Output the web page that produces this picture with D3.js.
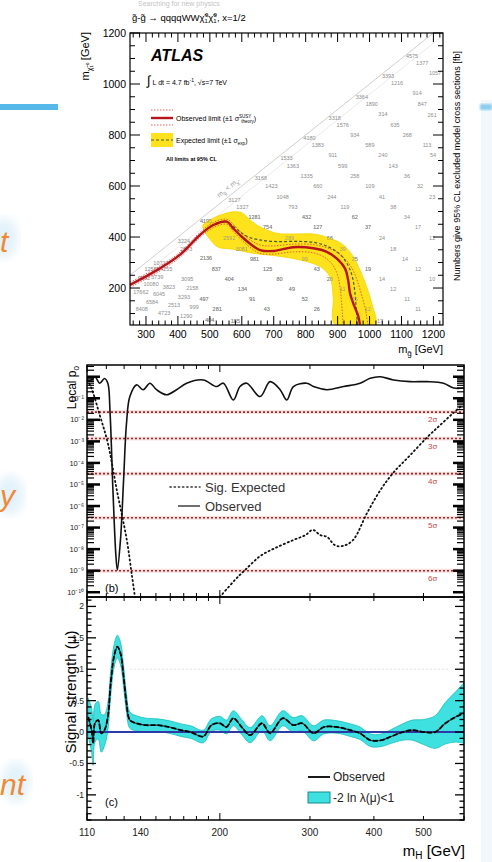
<!DOCTYPE html>
<html><head><meta charset="utf-8">
<script src="https://cdn.jsdelivr.net/npm/d3@7"></script>
<style>body{margin:0;background:#fff;} svg{display:block;font-family:"Liberation Sans",Arial,sans-serif;}</style>
</head><body><svg id="c" width="492" height="862"></svg>
<script>
// ---------------- DATA ----------------
// ATLAS exclusion panel (m_gluino, m_chi in GeV)
const atlasXTicks = [300,400,500,600,700,800,900,1000,1100,1200];
const atlasYTicks = [200,400,600,800,1000,1200];
const diagonal = [[250,250],[1200,1200]];
const obsLimit = [[250,212],[344,277],[406,330],[469,408],[511,447],[553,460],[573,434],[600,401],[631,369],[657,349],[699,345],[761,360],[824,356],[866,342],[897,316],[923,277],[933,231],[939,179],[949,140],[965,88],[970,55]];
const obsLimitUp = [[250,222],[344,287],[406,340],[469,418],[511,457],[553,470],[575,448],[600,415],[631,385],[660,368],[700,365],[761,372],[824,370],[866,358],[900,338],[930,305],[950,265],[965,215],[978,160],[988,110],[995,55]];
const obsLimitDown = [[250,202],[344,267],[406,320],[469,398],[511,437],[553,450],[573,422],[600,388],[631,355],[657,336],[700,333],[761,342],[824,338],[860,320],[885,290],[900,250],[908,200],[912,150],[915,100],[917,55]];
const expLimit = [[250,214],[344,279],[406,333],[469,410],[511,448],[545,462],[565,450],[590,425],[620,400],[660,388],[710,382],[770,383],[830,378],[870,362],[905,335],[930,295],[945,250],[953,195],[957,140],[960,90],[962,55]];
const expBandUp = [[479,447],[521,480],[573,499],[600,495],[626,467],[657,440],[709,415],[761,412],[824,412],[876,395],[918,369],[949,323],[970,271],[991,205],[1007,140],[1017,55]];
const expBandDown = [[479,434],[506,382],[526,360],[573,352],[636,336],[709,326],[782,310],[845,284],[876,244],[886,166],[892,55]];
const gridLabels = [
[1133,1110,"4575"],[1165,1082,"1377"],[1205,1043,"1057"],[1058,1031,"3393"],[1086,1004,"1216"],[1149,965,"914"],
[976,949,"3364"],[1007,922,"1890"],[1165,922,"847"],[1042,882,"314"],[1196,878,"261"],[891,867,"3318"],
[916,839,"1576"],[1080,839,"635"],[954,800,"934"],[1118,800,"268"],[812,788,"4180"],[838,761,"1383"],
[1001,761,"589"],[1180,761,"113"],[885,722,"911"],[1042,722,"240"],[1199,722,"54"],[740,710,"1533"],
[760,678,"1363"],[916,678,"599"],[1074,678,"143"],[660,630,"3168"],[803,639,"1335"],[954,639,"258"],[1117,639,"36"],
[693,600,"1423"],[838,600,"660"],[1001,600,"109"],[1158,600,"32"],[577,545,"3127"],[728,557,"1048"],[882,557,"244"],
[1039,557,"41"],[1196,557,"23"],[602,518,"1327"],[760,518,"793"],[923,518,"119"],[1074,518,"38"],
[640,478,"1281"],[803,478,"432"],[954,478,"62"],[1117,478,"34"],[488,463,"4195"],[681,439,"754"],[838,439,"127"],
[995,439,"37"],[1152,439,"17"],[750,396,"289"],[876,396,"66"],[1039,396,"24"],[1196,396,"12"],[561,396,"2592"],
[419,384,"3224"],[426,353,"2573"],[600,353,"3081"],[916,353,"39"],[1074,353,"18"],[347,298,"10713"],[488,318,"2136"],
[640,314,"981"],[797,314,"99"],[954,314,"25"],[1111,314,"14"],[319,274,"12585"],[363,274,"4255"],[520,274,"837"],
[681,274,"125"],[835,274,"43"],[995,274,"19"],[1152,274,"12"],[294,239,"9592"],[335,243,"3739"],[429,235,"3095"],
[561,235,"404"],[718,235,"80"],[876,235,"28"],[1039,235,"14"],[1196,235,"10"],[316,216,"10080"],[372,204,"3823"],
[445,200,"2158"],[602,196,"134"],[757,196,"49"],[916,196,"11"],[1074,196,"12"],[284,184,"17662"],[341,176,"6045"],
[419,165,"3293"],[482,157,"497"],[633,157,"91"],[797,157,"52"],[954,157,"15"],[1118,157,"11"],[319,145,"6584"],
[388,133,"2513"],[451,125,"999"],[523,118,"281"],[678,118,"43"],[835,118,"26"],[995,118,"12"],[1152,118,"11"],
[287,118,"8408"],[357,102,"4723"],[426,90,"1290"],[500,75,"404"],[580,72,"185"],[1033,70,"17"]
];

// Higgs local p0 panel (m_H in GeV, p-value)
const obsP0 = [[110,0.6],[112.3,0.71],[114,1.0],[116.5,0.5],[119,0.83],[120.8,0.5],[122,0.024],[123.6,5.8e-6],[125.3,4.7e-9],[126.1,1.1e-9],[127.9,2.8e-8],[129.7,1.7e-5],[131.4,6.9e-3],[133.4,0.12],[137.5,0.42],[141.6,0.25],[146,0.5],[150.4,0.25],[157.4,0.145],[164.6,0.25],[172.2,0.5],[185.6,0.71],[197.2,0.35],[203.2,0.5],[212.5,0.083],[219,0.35],[225.7,0.5],[239.7,0.12],[250.7,0.59],[262.3,0.25],[270.3,0.083],[278.5,0.35],[295.8,0.5],[304.8,0.35],[323.7,0.25],[349,0.35],[376,0.5],[393.4,0.85],[411.6,1.0],[437,0.71],[471,0.59],[508,0.59],[547,0.5],[573,0.3],[600,0.3]];
const expP0Low = [[110,0.7],[112,0.33],[116.5,0.0166],[120.8,8.3e-4],[125.8,5.5e-6],[131.6,2.6e-8],[134.6,6.3e-10],[136.5,6e-11]];
const expP0High = [[200,6e-11],[214,3.7e-10],[224,1.07e-9],[240,4.8e-9],[256,1.1e-8],[278,2.6e-8],[294,4.5e-8],[304,7.8e-8],[314,4.5e-8],[324,3.7e-8],[336,1.5e-8],[348,1.4e-8],[364,2.6e-8],[388,4.8e-7],[412,5.5e-6],[436,3.4e-5],[471,2.3e-4],[509,1.6e-3],[539,5.7e-3],[572,0.021],[596,0.049]];
const sigmaLabels = ["2σ","3σ","4σ","5σ","6σ"];
const sigmaP = [2.28e-2,1.35e-3,3.17e-5,2.87e-7,9.87e-10];
const p0Decades = [1,1e-1,1e-2,1e-3,1e-4,1e-5,1e-6,1e-7,1e-8,1e-9,1e-10];
const p0TickLabels = ["10⁻¹","10⁻²","10⁻³","10⁻⁴","10⁻⁵","10⁻⁶","10⁻⁷","10⁻⁸","10⁻⁹","10⁻¹⁰"];

// Signal strength panel: [m_H, mu, half-width of -2 ln λ < 1 band]
const muData = [[110.6,0.24,0.3],[112.3,0.03,0.35],[113.1,-0.18,0.35],[114,0.14,0.3],[115.7,0.19,0.3],[117.3,-0.02,0.3],[119,0.03,0.25],[120.8,0.24,0.22],[122.4,0.78,0.2],[124.2,1.2,0.18],[126.1,1.36,0.18],[127.9,1.25,0.18],[129.7,0.88,0.17],[131.4,0.46,0.15],[133.4,0.19,0.13],[137.3,0.14,0.12],[143.5,0.11,0.11],[151,0.11,0.1],[159.3,0.08,0.1],[167.8,0.03,0.1],[175.3,0.0,0.1],[185.6,-0.07,0.1],[192.5,0.11,0.1],[200,0.14,0.11],[206,0.08,0.11],[212.5,0.22,0.12],[220.6,0.08,0.12],[229.2,-0.05,0.12],[241.8,0.14,0.12],[250.7,-0.02,0.12],[265.4,0.22,0.12],[278.5,0.11,0.12],[289.7,0.14,0.12],[304.8,-0.02,0.12],[319.2,0.08,0.11],[339.1,0.08,0.1],[359.7,0.03,0.1],[376,-0.02,0.1],[393.4,-0.13,0.1],[413.8,-0.13,0.1],[432.3,-0.07,0.11],[455,0.0,0.13],[475.6,0.03,0.16],[500.6,0.0,0.2],[527,0.0,0.26],[551.6,0.14,0.33],[577.6,0.24,0.4],[599,0.3,0.48]];
const muYTicks = [-1,-0.5,0,0.5,1,1.5,2];
const mhTickLabels = [110,140,200,300,400,500];
const mhMinorTicks = [110,120,130,140,150,160,170,180,190,200,300,400,500,600];

// ---------------- DRAW ----------------
const svg = d3.select("#c");
const defs = svg.append("defs");
defs.append("filter").attr("id","soft").append("feGaussianBlur").attr("stdDeviation",1.2);
defs.append("filter").attr("id","glow").append("feGaussianBlur").attr("stdDeviation",5);

// slide decorations
svg.append("rect").attr("x",481).attr("y",100).attr("width",11).attr("height",762).attr("fill","#f1f7fb");
svg.append("rect").attr("x",0).attr("y",104).attr("width",58).attr("height",6).attr("fill","#57b9ea");
svg.append("rect").attr("x",480).attr("y",104).attr("width",12).attr("height",6).attr("fill","#8cccf0").attr("filter","url(#soft)");
svg.append("text").attr("x",138).attr("y",6).attr("font-size",7).attr("fill","#c4c4c4").text("Searching for new physics");
[[4,238],[10,495],[16,782]].forEach(c=>svg.append("ellipse").attr("cx",c[0]).attr("cy",c[1]).attr("rx",14).attr("ry",20).attr("fill","#e3f2fb").attr("filter","url(#glow)"));
const orange = svg.append("g").attr("font-style","italic").attr("font-size",30).attr("fill","#ee8a35");
orange.append("text").attr("x",0).attr("y",252).text("t");
orange.append("text").attr("x",0).attr("y",506).text("y");
orange.append("text").attr("x",0).attr("y",795).text("nt");

// ======== ATLAS panel ========
const ax = d3.scaleLinear().domain([250,1230]).range([130,443]);
const ay = d3.scaleLinear().domain([55,1200]).range([325,33]);
defs.append("clipPath").attr("id","clipA").append("rect").attr("x",130).attr("y",33).attr("width",313).attr("height",292);
const gA = svg.append("g");
const pA = gA.append("g").attr("clip-path","url(#clipA)");
const lineA = d3.line().x(d=>ax(d[0])).y(d=>ay(d[1])).curve(d3.curveCatmullRom);

pA.append("path").attr("d", lineA(diagonal)).attr("stroke","#cfcfcf").attr("stroke-width",1).attr("fill","none");
pA.append("path").attr("d", lineA(diagonal.map(d=>[d[0]+40,d[1]]))).attr("stroke","#e4e4e4").attr("stroke-width",0.8).attr("fill","none");
pA.selectAll("text.gl").data(gridLabels).join("text").attr("class","gl")
  .attr("x",d=>ax(d[0])).attr("y",d=>ay(d[1])).attr("text-anchor","middle").attr("dy","0.35em")
  .attr("font-size",5.5).attr("fill","#8d8d8d").text(d=>d[2]);
const bandPts = expBandUp.concat(expBandDown.slice().reverse());
pA.append("path").attr("d", d3.line().x(d=>ax(d[0])).y(d=>ay(d[1])).curve(d3.curveCatmullRomClosed)(bandPts))
  .attr("fill","#fde21c").attr("stroke","#f6d400").attr("stroke-width",0.8);
pA.append("path").attr("d", lineA(expLimit)).attr("stroke","#4c5a3a").attr("stroke-width",1.2).attr("stroke-dasharray","3,2").attr("fill","none");
[obsLimitUp, obsLimitDown].forEach(a=>pA.append("path").attr("d", lineA(a)).attr("stroke","#e0403a").attr("stroke-width",0.8).attr("stroke-dasharray","1.5,1.5").attr("fill","none"));
pA.append("path").attr("d", lineA(obsLimit)).attr("stroke","#b8141c").attr("stroke-width",2.4).attr("fill","none");
pA.selectAll("text.gl2").data(gridLabels.filter(d=>d[1]<510 && d[0]>470 && d[0]<1030)).join("text").attr("class","gl2")
  .attr("x",d=>ax(d[0])).attr("y",d=>ay(d[1])).attr("text-anchor","middle").attr("dy","0.35em")
  .attr("font-size",5.5).attr("fill","#8d8d8d").attr("opacity",0.8).text(d=>d[2]);

// frame and ticks
gA.append("rect").attr("x",130).attr("y",33).attr("width",313).attr("height",292).attr("fill","none").attr("stroke","#000").attr("stroke-width",1.2);
const tA = gA.append("g").attr("stroke","#000").attr("stroke-width",1);
d3.range(260,1231,20).forEach(v=>{
  const L = (v%100===0)?9:4.5, x=ax(v);
  tA.append("line").attr("x1",x).attr("x2",x).attr("y1",325).attr("y2",325-L);
  tA.append("line").attr("x1",x).attr("x2",x).attr("y1",33).attr("y2",33+L);
});
d3.range(100,1201,50).forEach(v=>{
  const L = (v%200===0)?10:5, y=ay(v);
  tA.append("line").attr("x1",130).attr("x2",130+L).attr("y1",y).attr("y2",y);
  tA.append("line").attr("x1",443).attr("x2",443-L).attr("y1",y).attr("y2",y);
});
gA.selectAll("text.xl").data(atlasXTicks).join("text").attr("class","xl").attr("x",d=>ax(d)).attr("y",338)
  .attr("text-anchor","middle").attr("font-size",10.5).text(d=>d);
gA.selectAll("text.yl").data(atlasYTicks).join("text").attr("class","yl").attr("x",126).attr("y",d=>ay(d)).attr("dy","0.35em")
  .attr("text-anchor","end").attr("font-size",10.5).text(d=>d);
const xt = gA.append("text").attr("x",443).attr("y",353).attr("text-anchor","end").attr("font-size",11);
xt.append("tspan").text("m");
xt.append("tspan").attr("font-size",8).attr("dy",3).text("g\u0303");
xt.append("tspan").attr("dy",-3).text(" [GeV]");
const yt = gA.append("text").attr("transform","translate(89,32) rotate(-90)").attr("text-anchor","end").attr("font-size",11);
yt.append("tspan").text("m");
yt.append("tspan").attr("font-size",7).attr("dy",3).text("χ\u0303\u2081\u2070");
yt.append("tspan").attr("dy",-3).text(" [GeV]");
gA.append("text").attr("transform","translate(460,166) rotate(-90)").attr("text-anchor","middle").attr("font-size",9)
  .text("Numbers give 95% CL excluded model cross sections [fb]");
const tt = gA.append("text").attr("x",132).attr("y",21).attr("font-size",9.5);
tt.append("tspan").text("g\u0303-g\u0303 \u2192 qqqqWW");
tt.append("tspan").text("χ\u0303");
tt.append("tspan").attr("font-size",6).attr("dy",2).text("1");
tt.append("tspan").attr("font-size",6).attr("dy",-6).attr("dx",-3).text("0");
tt.append("tspan").attr("dy",4).text("χ\u0303");
tt.append("tspan").attr("font-size",6).attr("dy",2).text("1");
tt.append("tspan").attr("font-size",6).attr("dy",-6).attr("dx",-3).text("0");
tt.append("tspan").attr("dy",4).text(", x=1/2");
gA.append("text").attr("x",151).attr("y",61).attr("font-size",16).attr("font-weight","bold").attr("font-style","italic").text("ATLAS");
const lum = gA.append("text").attr("x",147).attr("y",85).attr("font-size",7);
lum.append("tspan").attr("font-size",13).text("∫");
lum.append("tspan").attr("dx",2).text("L dt = 4.7 fb");
lum.append("tspan").attr("font-size",5).attr("dy",-3).text("-1");
lum.append("tspan").attr("dy",3).text(", √s=7 TeV");
// legend
gA.append("line").attr("x1",151).attr("x2",173).attr("y1",118).attr("y2",118).attr("stroke","#b8141c").attr("stroke-width",2.4);
[110,125].forEach(y=>gA.append("line").attr("x1",151).attr("x2",173).attr("y1",y).attr("y2",y).attr("stroke","#e0403a").attr("stroke-width",0.8).attr("stroke-dasharray","1.5,1.5"));
const ol = gA.append("text").attr("x",176).attr("y",121).attr("font-size",7);
ol.append("tspan").text("Observed limit (±1 σ");
ol.append("tspan").attr("font-size",4.5).attr("dy",-3).text("SUSY");
ol.append("tspan").attr("font-size",4.5).attr("dy",5).attr("dx",-10).text("theory");
ol.append("tspan").attr("dy",-2).text(")");
gA.append("rect").attr("x",151).attr("y",133).attr("width",22).attr("height",14).attr("fill","#fde21c");
gA.append("line").attr("x1",151).attr("x2",173).attr("y1",140).attr("y2",140).attr("stroke","#4c5a3a").attr("stroke-width",1.2).attr("stroke-dasharray","3,2");
const el = gA.append("text").attr("x",176).attr("y",143).attr("font-size",7);
el.append("tspan").text("Expected limit (±1 σ");
el.append("tspan").attr("font-size",4.5).attr("dy",2).text("exp");
el.append("tspan").attr("dy",-2).text(")");
gA.append("text").attr("x",166).attr("y",161).attr("font-size",5.5).attr("font-weight","bold").text("All limits at 95% CL");
const dl = gA.append("text").attr("transform",`translate(${ax(560)},${ay(585)}) rotate(-38.7)`).attr("text-anchor","middle").attr("font-size",7).attr("fill","#9a9a9a");
dl.append("tspan").text("m");
dl.append("tspan").attr("font-size",5).attr("dy",2).text("g\u0303");
dl.append("tspan").attr("dy",-2).text(" < m");
dl.append("tspan").attr("font-size",5).attr("dy",2).text("χ\u0303");

// ======== p0 panel ========
const hx = d3.scaleLog().domain([110,600]).range([87,464]);
const py = d3.scaleLog().domain([3.5,6e-11]).range([365,597]);
defs.append("clipPath").attr("id","clipB").append("rect").attr("x",87).attr("y",365).attr("width",377).attr("height",232);
const gB = svg.append("g");
const pB = gB.append("g").attr("clip-path","url(#clipB)");
const lineB = d3.line().x(d=>hx(d[0])).y(d=>py(d[1])).curve(d3.curveCatmullRom);
sigmaP.forEach((p,i)=>{
  pB.append("line").attr("x1",87).attr("x2",464).attr("y1",py(p)).attr("y2",py(p)).attr("stroke","#f3cccc").attr("stroke-width",4).attr("opacity",0.6);
  pB.append("line").attr("x1",87).attr("x2",464).attr("y1",py(p)).attr("y2",py(p)).attr("stroke","#9c2a2a").attr("stroke-width",1.6).attr("stroke-dasharray","2,2");
  pB.append("text").attr("x",428).attr("y",py(p)+10).attr("font-size",8).attr("fill","#c84848").text(sigmaLabels[i]);
});
[expP0Low, expP0High].forEach(a=>pB.append("path").attr("d",lineB(a)).attr("fill","none").attr("stroke","#111").attr("stroke-width",1.8).attr("stroke-dasharray","1.2,3").attr("stroke-linecap","round"));
pB.append("path").attr("d",lineB(obsP0)).attr("fill","none").attr("stroke","#111").attr("stroke-width",1.6);
// legend
gB.append("line").attr("x1",170).attr("x2",200).attr("y1",487).attr("y2",487).attr("stroke","#333").attr("stroke-width",1.6).attr("stroke-dasharray","1.2,3").attr("stroke-linecap","round");
gB.append("text").attr("x",205).attr("y",492).attr("font-size",13).attr("fill","#333").text("Sig. Expected");
gB.append("line").attr("x1",178).attr("x2",200).attr("y1",506).attr("y2",506).attr("stroke","#333").attr("stroke-width",1.4);
gB.append("text").attr("x",205).attr("y",511).attr("font-size",13).attr("fill","#333").text("Observed");
gB.append("text").attr("x",105).attr("y",592).attr("font-size",11).text("(b)");
// frame & ticks
gB.append("rect").attr("x",87).attr("y",365).attr("width",377).attr("height",232).attr("fill","none").attr("stroke","#000").attr("stroke-width",1.5);
const tB = gB.append("g").attr("stroke","#000");
p0Decades.forEach(d=>{
  const y=py(d);
  tB.append("line").attr("x1",87).attr("x2",100).attr("y1",y).attr("y2",y).attr("stroke-width",2.5);
  tB.append("line").attr("x1",464).attr("x2",453).attr("y1",y).attr("y2",y).attr("stroke-width",2.5);
  d3.range(2,10).forEach(m=>{
    const v=d*m; if(v>3.5) return; const yy=py(v);
    tB.append("line").attr("x1",87).attr("x2",94).attr("y1",yy).attr("y2",yy).attr("stroke-width",1.2);
    tB.append("line").attr("x1",464).attr("x2",457).attr("y1",yy).attr("y2",yy).attr("stroke-width",1.2);
  });
});
mhMinorTicks.forEach(v=>{
  const x=hx(v), L=(v===200||v===110)?7:4;
  tB.append("line").attr("x1",x).attr("x2",x).attr("y1",597).attr("y2",597-L).attr("stroke-width",1);
  tB.append("line").attr("x1",x).attr("x2",x).attr("y1",365).attr("y2",365+L).attr("stroke-width",1);
});
p0Decades.slice(1).forEach((d,i)=>{
  gB.append("text").attr("x",84).attr("y",py(d)).attr("dy","0.35em").attr("text-anchor","end").attr("font-size",7.5).attr("fill","#222").text(p0TickLabels[i]);
});
const lp = gB.append("text").attr("transform","translate(76,366) rotate(-90)").attr("text-anchor","end").attr("font-size",12);
lp.append("tspan").text("Local p");
lp.append("tspan").attr("font-size",8).attr("dy",3).text("0");

// ======== signal strength panel ========
const my = d3.scaleLinear().domain([-1.4,2.15]).range([820,597]);
defs.append("clipPath").attr("id","clipC").append("rect").attr("x",87).attr("y",597).attr("width",377).attr("height",223);
const gC = svg.append("g");
const pC = gC.append("g").attr("clip-path","url(#clipC)");
pC.append("line").attr("x1",130).attr("x2",450).attr("y1",my(1)).attr("y2",my(1)).attr("stroke","#e2e2e2").attr("stroke-width",1).attr("stroke-dasharray","2,2");
const area = d3.area().x(d=>hx(d[0])).y0(d=>my(d[1]-d[2])).y1(d=>my(d[1]+d[2])).curve(d3.curveCatmullRom);
pC.append("path").attr("d",area(muData)).attr("fill","#3ee0e0").attr("stroke","#1bbcbc").attr("stroke-width",0.8);
pC.append("line").attr("x1",87).attr("x2",464).attr("y1",my(0)).attr("y2",my(0)).attr("stroke","#2b3aa6").attr("stroke-width",2);
const lineC = d3.line().x(d=>hx(d[0])).y(d=>my(d[1])).curve(d3.curveCatmullRom);
pC.append("path").attr("d",lineC(muData)).attr("fill","none").attr("stroke","#234").attr("stroke-width",1.2);
pC.append("path").attr("d",lineC(muData)).attr("fill","none").attr("stroke","#000").attr("stroke-width",1.8).attr("stroke-dasharray","5,2");
// legend
gC.append("line").attr("x1",308).attr("x2",330).attr("y1",777).attr("y2",777).attr("stroke","#000").attr("stroke-width",1.8);
gC.append("text").attr("x",333).attr("y",781).attr("font-size",12).attr("fill","#222").text("Observed");
gC.append("rect").attr("x",308).attr("y",792).attr("width",22).attr("height",11).attr("fill","#3ee0e0").attr("stroke","#1a8a8a");
gC.append("text").attr("x",333).attr("y",802).attr("font-size",12).attr("fill","#222").text("-2 ln λ(μ)<1");
gC.append("text").attr("x",105).attr("y",806).attr("font-size",11).text("(c)");
// frame and ticks
gC.append("rect").attr("x",87).attr("y",597).attr("width",377).attr("height",223).attr("fill","none").attr("stroke","#000").attr("stroke-width",1.5);
const tC = gC.append("g").attr("stroke","#000");
d3.range(-14,22).forEach(k=>{
  const v=k/10, y=my(v), L=(k%5===0)?9:4.5;
  tC.append("line").attr("x1",87).attr("x2",87+L).attr("y1",y).attr("y2",y).attr("stroke-width",1.3);
  tC.append("line").attr("x1",464).attr("x2",464-L).attr("y1",y).attr("y2",y).attr("stroke-width",1.3);
});
mhMinorTicks.forEach(v=>{
  const x=hx(v), L=(v===200||v===110)?7:4;
  tC.append("line").attr("x1",x).attr("x2",x).attr("y1",820).attr("y2",820-L).attr("stroke-width",1);
  tC.append("line").attr("x1",x).attr("x2",x).attr("y1",597).attr("y2",597+L).attr("stroke-width",1);
});
gC.selectAll("text.my").data(muYTicks).join("text").attr("class","my").attr("x",84).attr("y",d=>my(d)).attr("dy","0.35em")
  .attr("text-anchor","end").attr("font-size",8.5).attr("fill","#222").text(d=>d);
gC.selectAll("text.mx").data(mhTickLabels).join("text").attr("class","mx").attr("x",d=>hx(d)).attr("y",836)
  .attr("text-anchor","middle").attr("font-size",10).attr("fill","#222").text(d=>d);
const mt = gC.append("text").attr("x",465).attr("y",856).attr("text-anchor","end").attr("font-size",15);
mt.append("tspan").text("m");
mt.append("tspan").attr("font-size",10).attr("dy",3).text("H");
mt.append("tspan").attr("dy",-3).text(" [GeV]");
gC.append("text").attr("transform","translate(76,692) rotate(-90)").attr("text-anchor","middle").attr("font-size",15).text("Signal strength (μ)");
</script></body></html>
